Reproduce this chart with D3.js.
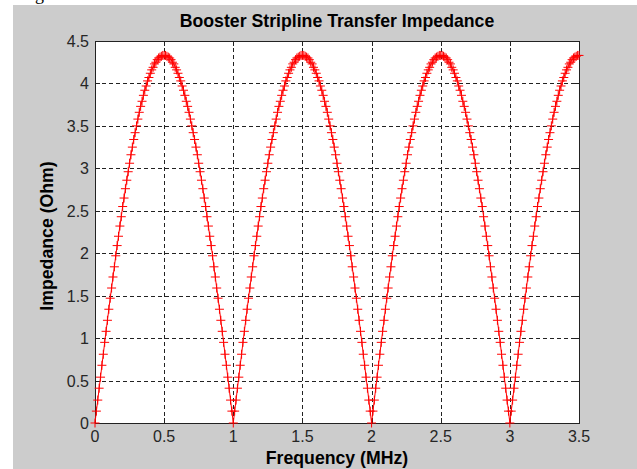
<!DOCTYPE html>
<meta charset="utf-8">
<style>
body { margin: 0; background: #fff; }
svg { display: block; font-family: "Liberation Sans", Arial, sans-serif; }
.grid line { stroke: #222; stroke-width: 1; stroke-dasharray: 4,3; shape-rendering: crispEdges; }
.tick-label { font-size: 16px; fill: #262626; }
.curve { fill: none; stroke: #ff0000; stroke-width: 1; }
.marker { fill: none; stroke: #ff0000; stroke-width: 1; }
</style>
<svg width="637" height="469"></svg>
<script src="https://d3js.org/d3.v7.min.js"></script>
<script>

// frequency samples start at 0 MHz, one every 0.01 MHz
var freqStart = 0;
var freqStep = 0.01;

// impedance (Ohm), one value per frequency sample
var impedance = [
    0, 0.14, 0.27, 0.41, 0.54, 0.68, 0.81, 0.95, 1.08, 1.21, 1.34, 1.47, 1.59, 1.72, 1.84, 1.97, 2.09, 2.2, 2.32, 2.43, 2.55, 2.65, 2.76, 2.86, 2.96, 3.06, 3.16, 3.25, 3.34, 3.42, 3.5, 3.58, 3.66, 3.73, 3.79, 3.86, 3.92, 3.97, 4.03, 4.07, 4.12, 4.16, 4.19, 4.23, 4.25, 4.28, 4.3, 4.31, 4.32, 4.33, 4.33,
    4.33, 4.32, 4.31, 4.3, 4.28, 4.25, 4.23, 4.19, 4.16, 4.12, 4.07, 4.03, 3.97, 3.92, 3.86, 3.79, 3.73, 3.66, 3.58, 3.5, 3.42, 3.34, 3.25, 3.16, 3.06, 2.96, 2.86, 2.76, 2.65, 2.55, 2.43, 2.32, 2.2, 2.09, 1.97, 1.84, 1.72, 1.59, 1.47, 1.34, 1.21, 1.08, 0.95, 0.81, 0.68, 0.54, 0.41, 0.27, 0.14,
    0, 0.14, 0.27, 0.41, 0.54, 0.68, 0.81, 0.95, 1.08, 1.21, 1.34, 1.47, 1.59, 1.72, 1.84, 1.97, 2.09, 2.2, 2.32, 2.43, 2.55, 2.65, 2.76, 2.86, 2.96, 3.06, 3.16, 3.25, 3.34, 3.42, 3.5, 3.58, 3.66, 3.73, 3.79, 3.86, 3.92, 3.97, 4.03, 4.07, 4.12, 4.16, 4.19, 4.23, 4.25, 4.28, 4.3, 4.31, 4.32, 4.33, 4.33,
    4.33, 4.32, 4.31, 4.3, 4.28, 4.25, 4.23, 4.19, 4.16, 4.12, 4.07, 4.03, 3.97, 3.92, 3.86, 3.79, 3.73, 3.66, 3.58, 3.5, 3.42, 3.34, 3.25, 3.16, 3.06, 2.96, 2.86, 2.76, 2.65, 2.55, 2.43, 2.32, 2.2, 2.09, 1.97, 1.84, 1.72, 1.59, 1.47, 1.34, 1.21, 1.08, 0.95, 0.81, 0.68, 0.54, 0.41, 0.27, 0.14,
    0, 0.14, 0.27, 0.41, 0.54, 0.68, 0.81, 0.95, 1.08, 1.21, 1.34, 1.47, 1.59, 1.72, 1.84, 1.97, 2.09, 2.2, 2.32, 2.43, 2.55, 2.65, 2.76, 2.86, 2.96, 3.06, 3.16, 3.25, 3.34, 3.42, 3.5, 3.58, 3.66, 3.73, 3.79, 3.86, 3.92, 3.97, 4.03, 4.07, 4.12, 4.16, 4.19, 4.23, 4.25, 4.28, 4.3, 4.31, 4.32, 4.33, 4.33,
    4.33, 4.32, 4.31, 4.3, 4.28, 4.25, 4.23, 4.19, 4.16, 4.12, 4.07, 4.03, 3.97, 3.92, 3.86, 3.79, 3.73, 3.66, 3.58, 3.5, 3.42, 3.34, 3.25, 3.16, 3.06, 2.96, 2.86, 2.76, 2.65, 2.55, 2.43, 2.32, 2.2, 2.09, 1.97, 1.84, 1.72, 1.59, 1.47, 1.34, 1.21, 1.08, 0.95, 0.81, 0.68, 0.54, 0.41, 0.27, 0.14,
    0, 0.14, 0.27, 0.41, 0.54, 0.68, 0.81, 0.95, 1.08, 1.21, 1.34, 1.47, 1.59, 1.72, 1.84, 1.97, 2.09, 2.2, 2.32, 2.43, 2.55, 2.65, 2.76, 2.86, 2.96, 3.06, 3.16, 3.25, 3.34, 3.42, 3.5, 3.58, 3.66, 3.73, 3.79, 3.86, 3.92, 3.97, 4.03, 4.07, 4.12, 4.16, 4.19, 4.23, 4.25, 4.28, 4.3, 4.31, 4.32, 4.33, 4.33
];

var xTicks = [0, 0.5, 1, 1.5, 2, 2.5, 3, 3.5];
var xTickLabels = ["0", "0.5", "1", "1.5", "2", "2.5", "3", "3.5"];
var yTicks = [0, 0.5, 1, 1.5, 2, 2.5, 3, 3.5, 4, 4.5];
var yTickLabels = ["0", "0.5", "1", "1.5", "2", "2.5", "3", "3.5", "4", "4.5"];

var svg = d3.select("svg");

var plotLeft = 95, plotRight = 579, plotTop = 41, plotBottom = 423;

var x = d3.scaleLinear().domain([0, 3.5]).range([plotLeft, plotRight]);
var y = d3.scaleLinear().domain([0, 4.5]).range([plotBottom, plotTop]);

var points = impedance.map(function (v, i) {
    return { f: freqStart + i * freqStep, z: v };
});

// figure background
svg.append("rect").attr("x", 13).attr("y", 5).attr("width", 637 - 13).attr("height", 469 - 5)
    .attr("fill", "#cccccc");
svg.append("text").attr("x", 35).attr("y", 0).attr("font-family", "Liberation Serif")
    .attr("font-size", 18).attr("fill", "#000").text("g");

// axes area
svg.append("rect").attr("x", plotLeft).attr("y", plotTop)
    .attr("width", plotRight - plotLeft).attr("height", plotBottom - plotTop)
    .attr("fill", "#fff");

var grid = svg.append("g").attr("class", "grid");
grid.selectAll("line.v").data(xTicks.slice(1, -1)).enter().append("line")
    .attr("class", "v")
    .attr("x1", function (d) { return Math.round(x(d)) + 0.5; })
    .attr("x2", function (d) { return Math.round(x(d)) + 0.5; })
    .attr("y1", plotTop).attr("y2", plotBottom);
grid.selectAll("line.h").data(yTicks.slice(1, -1)).enter().append("line")
    .attr("class", "h")
    .attr("y1", function (d) { return Math.round(y(d)) + 0.5; })
    .attr("y2", function (d) { return Math.round(y(d)) + 0.5; })
    .attr("x1", plotLeft).attr("x2", plotRight);

// inward ticks on all four sides
var tickLen = 5;
var ticks = svg.append("g").attr("stroke", "#222").attr("shape-rendering", "crispEdges");
xTicks.forEach(function (d) {
    var px = Math.round(x(d)) + 0.5;
    ticks.append("line").attr("x1", px).attr("x2", px).attr("y1", plotBottom).attr("y2", plotBottom - tickLen);
    ticks.append("line").attr("x1", px).attr("x2", px).attr("y1", plotTop).attr("y2", plotTop + tickLen);
});
yTicks.forEach(function (d) {
    var py = Math.round(y(d)) + 0.5;
    ticks.append("line").attr("y1", py).attr("y2", py).attr("x1", plotLeft).attr("x2", plotLeft + tickLen);
    ticks.append("line").attr("y1", py).attr("y2", py).attr("x1", plotRight).attr("x2", plotRight - tickLen);
});

// box
svg.append("rect").attr("x", plotLeft + 0.5).attr("y", plotTop + 0.5)
    .attr("width", plotRight - plotLeft).attr("height", plotBottom - plotTop)
    .attr("fill", "none").attr("stroke", "#222").attr("shape-rendering", "crispEdges");

// tick labels
svg.append("g").selectAll("text").data(xTicks).enter().append("text")
    .attr("class", "tick-label")
    .attr("x", function (d) { return x(d); })
    .attr("y", 442)
    .attr("text-anchor", "middle")
    .text(function (d, i) { return xTickLabels[i]; });
svg.append("g").selectAll("text").data(yTicks).enter().append("text")
    .attr("class", "tick-label")
    .attr("x", 89)
    .attr("y", function (d) { return y(d) + 6; })
    .attr("text-anchor", "end")
    .text(function (d, i) { return yTickLabels[i]; });

// series
var line = d3.line()
    .x(function (d) { return x(d.f); })
    .y(function (d) { return y(d.z); });

svg.append("path").datum(points).attr("class", "curve").attr("d", line);

svg.append("g").selectAll("path").data(points).enter().append("path")
    .attr("class", "marker")
    .attr("transform", function (d) { return "translate(" + x(d.f) + "," + y(d.z) + ")"; })
    .attr("d", "M-4.5,0H4.5M0,-4.5V4.5");

// titles
svg.append("text").attr("x", (plotLeft + plotRight) / 2).attr("y", 27)
    .attr("text-anchor", "middle").attr("font-weight", "bold").attr("font-size", 17.7)
    .attr("fill", "#000").text("Booster Stripline Transfer Impedance");
svg.append("text").attr("x", (plotLeft + plotRight) / 2).attr("y", 464)
    .attr("text-anchor", "middle").attr("font-weight", "bold").attr("font-size", 17.7)
    .attr("fill", "#000").text("Frequency (MHz)");
svg.append("text")
    .attr("transform", "translate(53,236) rotate(-90)")
    .attr("text-anchor", "middle").attr("font-weight", "bold").attr("font-size", 17.7)
    .attr("fill", "#000").text("Impedance (Ohm)");

</script>
